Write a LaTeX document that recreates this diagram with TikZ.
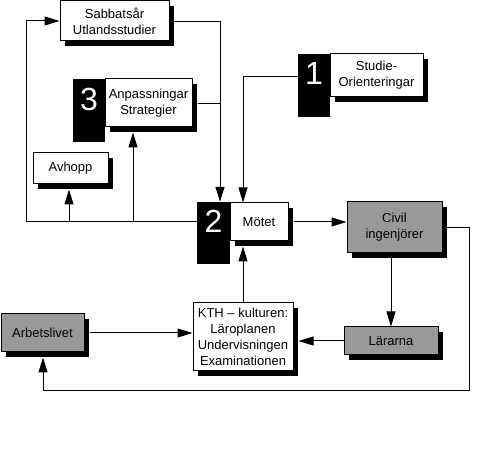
\documentclass[tikz,border=0pt]{standalone}
\usepackage{fontspec}
\setmainfont{Liberation Sans}
\usetikzlibrary{arrows.meta,shadows}
\definecolor{boxgray}{HTML}{999999}
\begin{document}
\begin{tikzpicture}[x=1pt,y=-1pt,
  box/.style={draw, line width=1pt, fill=white, inner sep=0pt, align=center,
    font=\fontsize{13}{16}\selectfont,
    drop shadow={shadow xshift=5pt, shadow yshift=-5pt, opacity=1, fill=black}},
  graybox/.style={box, fill=boxgray},
  numbox/.style={fill=black, draw=none, inner sep=0pt},
  numtext/.style={text=white, inner sep=0pt, font=\fontsize{32}{32}\selectfont},
  conn/.style={line width=1pt},
  arr/.style={conn, -{Triangle[length=15pt,width=9pt]}}]
\useasboundingbox (0,0) rectangle (499,462);

% number blocks
\node[numbox, minimum width=32pt, minimum height=63pt] (num3) at (89,110.5) {};
\node[numbox, minimum width=32pt, minimum height=63pt] (num1) at (314,85.5) {};
\node[numbox, minimum width=33pt, minimum height=62pt] (num2) at (213.5,233) {};

% boxes
\node[box, minimum width=109pt, minimum height=40pt] (sab) at (114.5,21) {Sabbatsår\\Utlandsstudier};
\node[box, minimum width=87pt, minimum height=48pt] (anp) at (148.5,103) {Anpassningar\\Strategier};
\node[box, minimum width=93pt, minimum height=43pt] (stu) at (376.5,75.5) {Studie-\\Orienteringar};
\node[box, minimum width=75pt, minimum height=31pt] (avh) at (70.5,168.5) {Avhopp};
\node[box, minimum width=58pt, minimum height=38pt] (mot) at (259,222) {Mötet};
\node[graybox, minimum width=95pt, minimum height=51pt] (civ) at (394.5,227.5) {Civil\\ingenjörer};
\node[box, minimum width=100pt, minimum height=68pt] (kth) at (243,337) {KTH – kulturen:\\Läroplanen\\Undervisningen\\Examinationen};
\node[graybox, minimum width=94pt, minimum height=28pt] (lar) at (391,341) {Lärarna};
\node[graybox, minimum width=83pt, minimum height=38pt] (arb) at (42.5,333) {Arbetslivet};

% numerals
\node[numtext] (t3) at (89,99) {3};
\node[numtext] (t1) at (314,73.5) {1};
\node[numtext] (t2) at (213.5,221) {2};

% coordinates
\coordinate (cl) at (26,222);
\coordinate (b1) at (69,222);
\coordinate (b2) at (133,222);
\coordinate (cs) at (220,22);
\coordinate (ca) at (220,104);
\coordinate (co) at (243,77);
\coordinate (cr) at (469,228);
\coordinate (cb) at (469,391);
\coordinate (cbl) at (43,391);
\coordinate (avhs) at ([yshift=-5pt]avh.south);
\coordinate (anps) at ([yshift=-5pt]anp.south);
\coordinate (anpe) at ([xshift=5pt]anp.east);
\coordinate (mots) at ([yshift=-5pt]mot.south);
\coordinate (mote) at ([xshift=5pt]mot.east);
\coordinate (arbs) at ([yshift=-5pt]arb.south);
\coordinate (arbe) at ([xshift=5pt]arb.east);
\coordinate (kthe) at ([xshift=5pt]kth.east);

% connectors
\draw[arr] (num2.west |- mot.west) -- (cl) |- (sab.west);
\draw[arr] (b1) -- (b1 |- avhs);
\draw[arr] (b2) -- (b2 |- anps);
\draw[arr] (sab.east |- cs) -- (cs) -- (cs |- num2.north);
\draw[conn] (anpe |- ca) -- (ca);
\draw[arr] (num1.west |- co) -- (co) -- (co |- mot.north);
\draw[arr] (mote) -- (civ.west |- mote);
\draw[arr] (kth.north -| co) -- (co |- mots);
\draw[arr] (civ.south -| lar.north) -- (lar.north);
\draw[arr] (civ.east |- cr) -- (cr) -- (cb) -- (cbl) -- (cbl |- arbs);
\draw[arr] (lar.west) -- (kthe |- lar.west);
\draw[arr] (arbe) -- (kth.west |- arbe);
\end{tikzpicture}
\end{document}
